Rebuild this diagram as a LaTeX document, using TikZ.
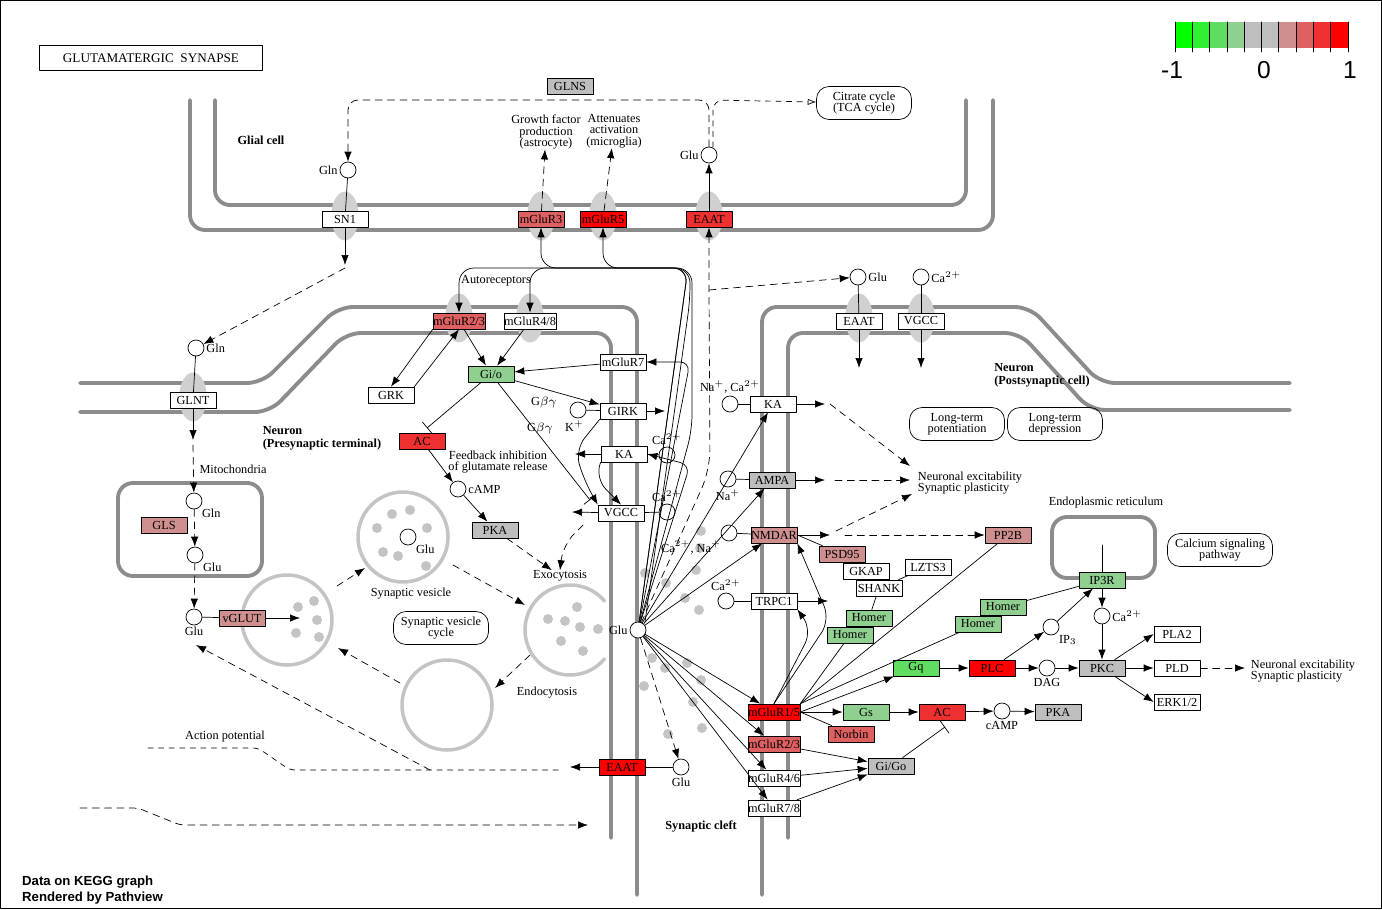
\documentclass[tikz,border=0pt]{standalone}
\usepackage{fontspec}
\setmainfont{Liberation Serif}
\setsansfont{Liberation Sans}
\usetikzlibrary{arrows.meta, shapes.geometric}
\tikzset{>={Latex[length=2mm,width=1.5mm]}}
\definecolor{gy}{HTML}{BEBEBE}
\definecolor{r1}{HTML}{FF0000}
\definecolor{r2}{HTML}{EF3030}
\definecolor{r3}{HTML}{DF6060}
\definecolor{r4}{HTML}{CF8F8F}
\definecolor{g1}{HTML}{8FCF8F}
\definecolor{g2}{HTML}{60DD60}
\definecolor{g3}{HTML}{30EE30}
\definecolor{mem}{HTML}{8C8C8C}
\definecolor{chan}{HTML}{D0D0D0}
\definecolor{ves}{HTML}{C4C4C4}
\tikzset{gene/.style={draw, fill=white, inner sep=0pt, minimum width=0.92cm, minimum height=0.32cm, font=\fontsize{7}{7}\selectfont}}
\tikzset{cpd/.style={draw, fill=white, circle, inner sep=0pt, minimum size=0.32cm}}
\tikzset{lbl/.style={font=\fontsize{7}{7.5}\selectfont, inner sep=1pt, label distance=0pt}}
\tikzset{txt/.style={font=\fontsize{7}{7.5}\selectfont, align=center, inner sep=0pt}}
\tikzset{bold/.style={font=\bfseries\fontsize{7}{7.5}\selectfont, align=left, inner sep=0pt}}
\tikzset{mapbox/.style={draw, rounded corners=2.5mm, minimum width=1.9cm, minimum height=0.66cm, txt}}
\tikzset{membrane/.style={draw=mem, line width=2.2pt, rounded corners=3mm}}
\tikzset{channel/.style={fill=chan, ellipse, minimum width=0.55cm, minimum height=0.98cm, inner sep=0pt}}
\tikzset{vesicle/.style={draw=ves, line width=2pt}}
\tikzset{dot/.style={fill=ves, circle, inner sep=0pt, minimum size=0.2cm}}
\tikzset{act/.style={->}}
\tikzset{ind/.style={->, dashed, dash pattern=on 4pt off 3pt}}
\tikzset{inh/.style={-{Bar[width=3mm]}}}
\newcommand{\gn}[4]{\node[gene, fill=#4] (#1) at (#2) {#3};}
\begin{document}
\begin{tikzpicture}[x=0.02cm, y=-0.02cm, line cap=round, line join=round]
	\useasboundingbox (0,0) rectangle (1382,909);
	\draw[thin] (0.5,0.5) rectangle (1381.5,908.5);

	% Title and legend
	\node[draw, thick, minimum width=4.46cm, minimum height=0.5cm, font=\fontsize{7.5}{8}\selectfont] (title) at (151,58) {GLUTAMATERGIC\ \ SYNAPSE};
	\foreach \c [count=\i from 0] in {00FF00,30EE30,60DD60,8FCF8F,BEBEBE,BEBEBE,CF8F8F,DF6060,EF3030,FF0000}
	{
		\definecolor{cc}{HTML}{\c}
		\fill[cc] (1175+\i*17.3,22) rectangle (1175+\i*17.3+17.3,48);
		\draw (1175+\i*17.3,22) -- (1175+\i*17.3,52);
	}
	\draw (1348,22) -- (1348,52);
	\node[font=\sffamily\fontsize{14}{14}\selectfont] (lm) at (1172,70) {-1};
	\node[font=\sffamily\fontsize{14}{14}\selectfont] (l0) at (1264,70) {0};
	\node[font=\sffamily\fontsize{14}{14}\selectfont] (l1) at (1350,70) {1};
	\node[font=\sffamily\bfseries\fontsize{7.5}{9}\selectfont, align=left, anchor=west] (foot) at (16,890) {Data on KEGG graph\\Rendered by Pathview};

	% Membranes
	\draw[membrane] (190,100) -- (190,230) -- (993,230) -- (993,100);
	\draw[membrane] (215,100) -- (215,205) -- (966,205) -- (966,100);
	\draw[membrane] (80,383) -- (262,383) -- (338,307) -- (637,307) -- (637,895);
	\draw[membrane] (80,412) -- (270,412) -- (346,333) -- (611,333) -- (611,838);
	\draw[membrane] (762,895) -- (762,307) -- (1030,307) -- (1100,383) -- (1290,383);
	\draw[membrane] (788,838) -- (788,333) -- (1020,333) -- (1090,410) -- (1290,410);
	\draw[membrane] (118,483) rectangle (262,576);
	\draw[membrane] (1052,517) rectangle (1155,578);

	% Vesicles
	\draw[vesicle] (403,537) circle (45);
	\draw[vesicle] (287,620) circle (45);
	\draw[vesicle] (447,705) circle (45);
	\draw[vesicle] (570,630) ++(40:45) arc (40:320:45);
	\foreach \p in {(377,528),(392,514),(410,510),(427,528),(383,552),(398,556),(426,566),
		(298,607),(314,601),(317,620),(296,633),(319,637),
		(548,619),(565,621),(577,607),(580,627),(561,641),(583,651),(598,629),
		(701,531),(700,548),(645,573),(666,583),(685,598),(699,610),(652,658),(665,668),(687,663),(701,680),(644,686),(693,702),(702,728),(668,734),(696,570),(722,600)}
		\node[dot] at \p {};

	% Channels
	\foreach \x/\y in {345/216,541/216,603/216,709/216,459/318,530/318,193/397,859/318,921/318}
		\node[channel] at (\x,\y) {};

	% Glial cell
	\gn{glns}{570,86}{GLNS}{gy}
	\gn{sn1}{345,219}{SN1}{white}
	\gn{mglur3}{541,219}{mGluR3}{r3}
	\gn{mglur5}{603,219}{mGluR5}{r1}
	\gn{eaat1}{709,219}{EAAT}{r2}
	\node[cpd, label={[lbl]left:Gln}] (gln1) at (348,170) {};
	\node[cpd, label={[lbl]left:Glu}] (glu1) at (709,155) {};
	\node[mapbox] (tca) at (864,103) {Citrate cycle\\[-1pt](TCA cycle)};
	\node[bold] (glia) at (261,140) {Glial cell};
	\node[txt] (growth) at (546,132) {Growth factor\\[-1pt]production\\[-1pt](astrocyte)};
	\node[txt] (atten) at (614,131) {Attenuates\\[-1pt]activation\\[-1pt](microglia)};

	% Presynaptic terminal
	\gn{mglur23a}{459,321}{mGluR2/3}{r3}
	\gn{mglur48}{530,321}{mGluR4/8}{white}
	\gn{glnt}{193,400}{GLNT}{white}
	\gn{grk}{391,395}{GRK}{white}
	\gn{gio}{491,374}{Gi/o}{g1}
	\gn{mglur7}{623,362}{mGluR7}{white}
	\gn{girk}{623,411}{GIRK}{white}
	\gn{ka1}{624,454}{KA}{white}
	\gn{vgcc1}{621,513}{VGCC}{white}
	\gn{ac1}{422,441}{AC}{r2}
	\gn{pka1}{495,530}{PKA}{gy}
	\gn{gls}{164,525}{GLS}{r4}
	\gn{vglut}{242,618}{vGLUT}{r4}
	\gn{eaat2}{622,767}{EAAT}{r1}
	\node[cpd, label={[lbl]right:Gln}] (gln2) at (196,348) {};
	\node[cpd, label={[lbl]below right:Gln}] (gln3) at (194,501) {};
	\node[cpd, label={[lbl]below right:Glu}] (glu2) at (195,555) {};
	\node[cpd, label={[lbl]below:Glu}] (glu3) at (194,617) {};
	\node[cpd, label={[lbl]below right:Glu}] (glu4) at (408,537) {};
	\node[cpd, label={[lbl]right:cAMP}] (camp1) at (458,489) {};
	\node[cpd, label={[lbl, xshift=-2pt]below:K$^+$}] (kion) at (578,410) {};
	\node[cpd, label={[lbl]above:Ca$^{2+}$}] (ca1) at (667,455) {};
	\node[cpd, label={[lbl]above:Ca$^{2+}$}] (ca2) at (667,512) {};
	\node[cpd, label={[lbl]left:Glu}] (gluc) at (638,630) {};
	\node[cpd, label={[lbl]below:Glu}] (glu5) at (681,767) {};
	\node[txt] (autor) at (496,281) {Autoreceptors};
	\node[bold] (pre) at (322,438) {Neuron\\(Presynaptic terminal)};
	\node[txt] (mito) at (233,469) {Mitochondria};
	\node[txt] (feed) at (498,462) {Feedback inhibition\\[-1pt]of glutamate release};
	\node[txt] (gbg1) at (544,402) {G$\beta\gamma$};
	\node[txt] (gbg2) at (540,428) {G$\beta\gamma$};
	\node[txt] (sv) at (411,594) {Synaptic vesicle};
	\node[mapbox] (svc) at (441,628) {Synaptic vesicle\\[-1pt]cycle};
	\node[txt] (exo) at (560,576) {Exocytosis};
	\node[txt] (endo) at (547,693) {Endocytosis};
	\node[txt] (ap) at (225,737) {Action potential};
	\node[bold] (cleft) at (701,826) {Synaptic cleft};

	% Postsynaptic cell
	\gn{eaat3}{859,321}{EAAT}{white}
	\gn{vgcc2}{921,321}{VGCC}{white}
	\gn{ka2}{773,404}{KA}{white}
	\gn{ampa}{772,480}{AMPA}{gy}
	\gn{nmdar}{774,535}{NMDAR}{r4}
	\gn{trpc1}{774,601}{TRPC1}{white}
	\gn{mglur15}{774,712}{mGluR1/5}{r1}
	\gn{mglur23b}{774,744}{mGluR2/3}{r3}
	\gn{mglur46}{774,778}{mGluR4/6}{white}
	\gn{mglur78}{774,808}{mGluR7/8}{white}
	\gn{psd95}{842,554}{PSD95}{r4}
	\gn{gkap}{866,571}{GKAP}{white}
	\gn{lzts3}{928,567}{LZTS3}{white}
	\gn{shank}{879,588}{SHANK}{white}
	\gn{homer1}{869,618}{Homer}{g1}
	\gn{homer2}{850,635}{Homer}{g1}
	\gn{homer3}{1003,607}{Homer}{g1}
	\gn{homer4}{978,624}{Homer}{g1}
	\gn{pp2b}{1008,535}{PP2B}{r4}
	\gn{ip3r}{1102,580}{IP3R}{g1}
	\gn{gq}{916,668}{Gq}{g2}
	\gn{plc}{992,668}{PLC}{r1}
	\gn{pkc}{1102,668}{PKC}{gy}
	\gn{pla2}{1177,634}{PLA2}{white}
	\gn{pld}{1177,668}{PLD}{white}
	\gn{erk}{1177,702}{ERK1/2}{white}
	\gn{gs}{866,712}{Gs}{g1}
	\gn{ac2}{942,712}{AC}{r2}
	\gn{pka2}{1058,712}{PKA}{gy}
	\gn{norbin}{851,734}{Norbin}{r3}
	\gn{gigo}{891,766}{Gi/Go}{gy}
	\node[cpd, label={[lbl]right:Glu}] (glu6) at (858,277) {};
	\node[cpd, label={[lbl]right:Ca$^{2+}$}] (ca3) at (921,277) {};
	\node[cpd, label={[lbl]above:Na$^+$, Ca$^{2+}$}] (naca) at (730,404) {};
	\node[cpd, label={[lbl]below:Na$^+$}] (na) at (728,479) {};
	\node[cpd, label={[lbl]below left:Ca$^{2+}$, Na$^+$}] (cana) at (729,533) {};
	\node[cpd, label={[lbl]above:Ca$^{2+}$}] (ca4) at (726,601) {};
	\node[cpd, label={[lbl]below right:IP$_3$}] (ip3) at (1051,627) {};
	\node[cpd, label={[lbl]right:Ca$^{2+}$}] (ca5) at (1102,616) {};
	\node[cpd, label={[lbl]below:DAG}] (dag) at (1047,668) {};
	\node[cpd, label={[lbl]below:cAMP}] (camp2) at (1002,711) {};
	\node[bold] (post) at (1042,375) {Neuron\\(Postsynaptic cell)};
	\node[mapbox] (ltp) at (957,424) {Long-term\\[-1pt]potentiation};
	\node[mapbox, minimum width=1.9cm] (ltd) at (1055,424) {Long-term\\[-1pt]depression};
	\node[txt, align=left] (ne1) at (970,483) {Neuronal excitability\\[-1pt]Synaptic plasticity};
	\node[txt] (er) at (1106,503) {Endoplasmic reticulum};
	\node[mapbox, minimum width=2.1cm] (calc) at (1220,550) {Calcium signaling\\[-1pt]pathway};
	\node[txt, align=left] (ne2) at (1303,671) {Neuronal excitability\\[-1pt]Synaptic plasticity};

	% Glial connectors
	\draw[ind, rounded corners=2mm] (glu1) -- (709,100) -- (348,100) -- (gln1);
	\draw[dashed, -{Latex[open]}, rounded corners=2mm] (713,147) -- (713,100) -- (tca);
	\draw (gln1) -- (sn1);
	\draw[act] (sn1) -- (345,265);
	\draw[ind] (345,268) -- (gln2);
	\draw[ind] (mglur3) -- (growth);
	\draw[ind] (mglur5) -- (atten);
	\draw[act] (eaat1) -- (glu1);

	% Presynaptic connectors
	\draw (gln2) -- (glnt);
	\draw[act] (glnt) -- (193,440);
	\draw[ind] (193,445) -- (gln3);
	\draw[ind] (gln3) -- (glu2);
	\draw[ind] (glu2) -- (glu3);
	\draw (glu3) -- (vglut);
	\draw[act] (vglut) -- (300,618);
	\draw[ind] (337,586) -- (365,568);
	\draw[ind] (453,565) -- (525,605);
	\draw[ind] (400,683) -- (338,648);
	\draw[ind] (530,655) -- (495,688);
	\draw[act, rounded corners=3mm] (gluc) -- (692,430) -- (692,268) -- (459,268) -- (mglur23a);
	\draw[act, rounded corners=3mm] (645,622) -- (690,300) -- (690,268) -- (530,268) -- (mglur48);
	\draw[act, rounded corners=3mm] (gluc) -- (688,268) -- (541,268) -- (mglur3);
	\draw[act, rounded corners=3mm] (gluc) -- (688,268) -- (603,268) -- (mglur5);
	\draw[act, rounded corners=2mm] (gluc) -- (690,362) -- (mglur7);
	\draw[act, rounded corners=2mm] (gluc) -- (690,465) -- (ka1.east);
	\draw[ind, rounded corners=4mm] (gluc) -- (710,470) -- (709,290) -- (eaat1);
	\draw[ind] (709,290) -- (glu6);
	\draw[act] (mglur23a) -- (gio);
	\draw[act] (mglur48) -- (gio);
	\draw[act] (mglur7) -- (gio);
	\draw[act] (mglur23a.south west) -- (grk.north);
	\draw[act] (grk.north east) -- (mglur23a.south);
	\draw[act] (gio) -- (girk);
	\draw[inh] (gio) -- (590,500);
	\draw[inh] (gio) -- (427,428);
	\draw[act] (ac1) -- (camp1);
	\draw[act] (camp1) -- (pka1);
	\draw[ind] (pka1) -- (exo);
	\draw (kion) -- (girk);
	\draw[act] (girk) -- (665,411);
	\draw (ca1) -- (ka1);
	\draw[act] (ka1) -- (575,454);
	\draw (ca2) -- (vgcc1);
	\draw[act] (vgcc1) -- (572,512);
	\draw[act, rounded corners=3mm] (girk.south west) -- (575,450) -- (584,480) -- (vgcc1.north west);
	\draw[act, rounded corners=3mm] (ka1.south west) -- (595,478) -- (vgcc1.north);
	\draw[ind, rounded corners=3mm] (583,525) -- (563,545) -- (exo.north);
	\draw (eaat2) -- (glu5);
	\draw[ind] (gluc) -- (glu5);
	\draw[act] (eaat2) -- (570,767);
	\draw[dashed, rounded corners=1mm] (148,748) -- (258,748) -- (290,770) -- (560,770);
	\draw[ind] (430,770) -- (196,645);
	\draw[ind, rounded corners=1mm] (80,808) -- (138,808) -- (180,825) -- (588,825);

	% Postsynaptic connectors
	\draw[act] (gluc) -- (ka2);
	\draw[act] (gluc) -- (ampa);
	\draw[act] (gluc) -- (nmdar);
	\draw[act] (gluc) -- (mglur15);
	\draw[act] (gluc) -- (mglur23b);
	\draw[act] (gluc) -- (mglur46);
	\draw[act] (gluc) -- (mglur78);
	\draw[act] (eaat3) -- (859,368);
	\draw[act] (vgcc2) -- (921,368);
	\draw (glu6) -- (eaat3);
	\draw (ca3) -- (vgcc2);
	\draw (naca) -- (ka2);
	\draw (na) -- (ampa);
	\draw (cana) -- (nmdar);
	\draw (ca4) -- (trpc1);
	\draw[act] (ka2) -- (825,404);
	\draw[act] (ampa) -- (825,480);
	\draw[act] (nmdar) -- (830,535);
	\draw[act] (trpc1) -- (828,601);
	\draw[ind] (830,404) -- (910,466);
	\draw[ind] (835,480) -- (910,480);
	\draw[ind] (836,531) -- (912,494);
	\draw[ind] (845,535) -- (pp2b);
	\draw[act, rounded corners=3mm] (mglur15.north) -- (830,620) -- (nmdar.south east);
	\draw[act, rounded corners=3mm] (mglur15.north) -- (812,630) -- (trpc1.south east);
	\draw (nmdar.east) -- (psd95);
	\draw (psd95) -- (gkap);
	\draw (gkap) -- (shank);
	\draw (shank) -- (lzts3);
	\draw (shank) -- (homer1);
	\draw (homer2) -- (mglur15.north east);
	\draw (homer4) -- (mglur15.north east);
	\draw (pp2b) -- (mglur15.north east);
	\draw[act] (mglur15.east) -- (gq);
	\draw[act] (mglur15) -- (gs);
	\draw (mglur15.east) -- (norbin);
	\draw[act] (gq) -- (plc);
	\draw[act] (plc) -- (dag);
	\draw[act] (plc) -- (ip3);
	\draw[act] (dag) -- (pkc);
	\draw[act] (ip3) -- (ip3r);
	\draw (homer3) -- (ip3r);
	\draw (1102,545) -- (ip3r);
	\draw[act] (ip3r) -- (ca5);
	\draw[act] (ca5) -- (pkc);
	\draw[act] (pkc) -- (pla2.west);
	\draw[act] (pkc) -- (pld);
	\draw[act] (pkc) -- (erk.west);
	\draw[ind] (pld) -- (1245,668);
	\draw[act] (gs) -- (ac2);
	\draw[act] (ac2) -- (camp2);
	\draw[act] (camp2) -- (pka2);
	\draw[act] (mglur23b) -- (gigo);
	\draw[act] (mglur46) -- (gigo);
	\draw[act] (mglur78) -- (gigo);
	\draw[inh] (gigo) -- (945,727);
\end{tikzpicture}
\end{document}
